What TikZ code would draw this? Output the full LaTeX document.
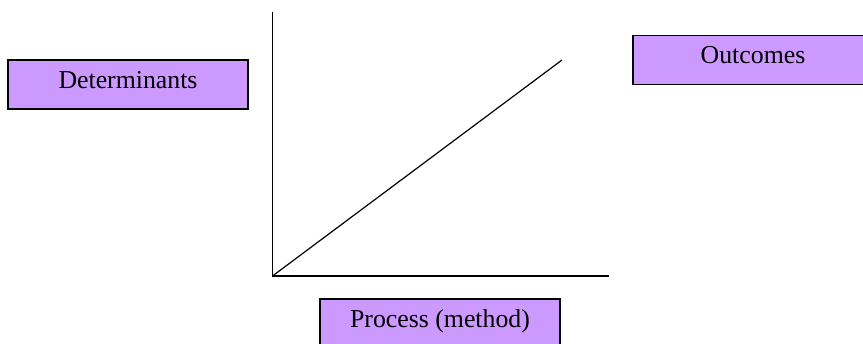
\documentclass[tikz,border=0pt]{standalone}
\usepackage{fontspec}
\setmainfont{Liberation Serif}
\definecolor{boxfill}{HTML}{CC99FF}
\begin{document}
\begin{tikzpicture}[x=1pt,y=-1pt,
  box/.style={draw=black, line width=1.6pt, fill=boxfill, minimum width=240pt,
    minimum height=49pt, inner sep=0pt, text height=1.0em, text depth=0.2em,
    font=\fontsize{25.8}{30}\selectfont},
  axis/.style={line width=1.5pt}]
\useasboundingbox (0,0) rectangle (863,344);
\clip (0,0) rectangle (863,344);
\node[box] (det) at (128,84.5) {Determinants};
\node[box] (out) at (753,60) {Outcomes};
\node[box] (proc) at (440,323.5) {Process (method)};
\coordinate (origin) at (272.5,276);
\coordinate (ytop) at (272.5,12);
\coordinate (xend) at (609,276);
\coordinate (dend) at (562,60);
\draw[axis] (ytop) -- (origin) -- (xend);
\draw[line width=1.2pt] (origin) -- (dend);
\end{tikzpicture}
\end{document}
